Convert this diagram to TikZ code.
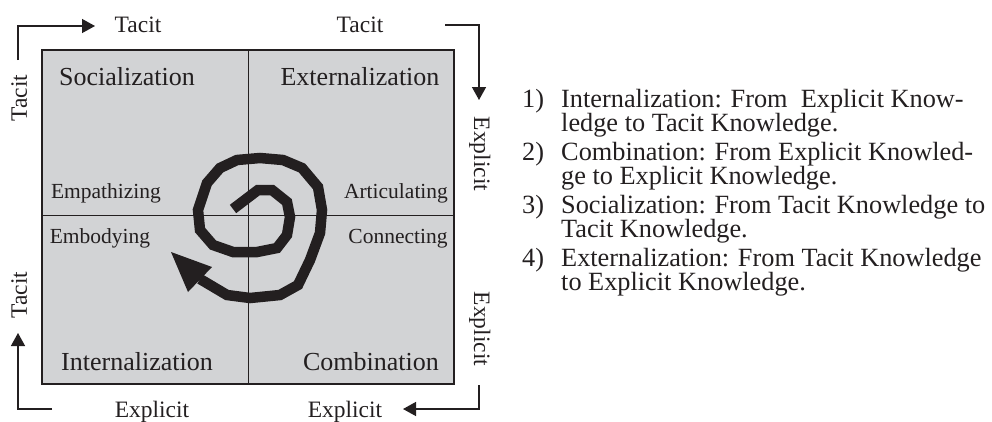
\documentclass[tikz,border=0pt]{standalone}
\usepackage{fontspec}
\setmainfont{Liberation Serif}
\usetikzlibrary{arrows.meta}
\definecolor{quadfill}{RGB}{210,211,213}
\definecolor{ink}{RGB}{35,31,32}
\begin{document}
\begin{tikzpicture}[x=1pt,y=-1pt,
  axisarrow/.style={draw=ink,line width=1.4pt,-{Triangle[length=13pt,width=14pt]}},
  axislabel/.style={font=\fontsize{23.5}{26}\selectfont, inner sep=0pt, anchor=base, text=ink},
  quadlabel/.style={font=\fontsize{26}{28}\selectfont, inner sep=0pt, anchor=base, text=ink},
  actlabel/.style={font=\fontsize{21.5}{24}\selectfont, inner sep=0pt, anchor=base, text=ink},
  listtext/.style={font=\fontsize{26.3}{23}\selectfont, inner sep=0pt, anchor=base west, text=ink},
  spiralline/.style={draw=ink,line width=10.5pt}]
\useasboundingbox (0,0) rectangle (992,421);
% matrix box
\fill[quadfill] (42,50) rectangle (454,384);
\draw[ink,line width=1pt] (248,50) -- (248,384) (42,215) -- (454,215);
\draw[ink,line width=1.3pt] (42,50) rectangle (454,384);
% quadrant labels
\node[quadlabel] (soc) at (127,85) {Socialization};
\node[quadlabel] (ext) at (360,85) {Externalization};
\node[quadlabel] (int) at (137,370) {Internalization};
\node[quadlabel] (com) at (371,370) {Combination};
\node[actlabel] (emp) at (106,198) {Empathizing};
\node[actlabel] (art) at (396,198) {Articulating};
\node[actlabel] (emb) at (100,243) {Embodying};
\node[actlabel] (con) at (398,243) {Connecting};
% axis labels
\node[axislabel] (tTL) at (138,32) {Tacit};
\node[axislabel] (tTR) at (360,32) {Tacit};
\node[axislabel] (eBL) at (152,417) {Explicit};
\node[axislabel] (eBR) at (345,417) {Explicit};
\node[axislabel,rotate=90] (tL1) at (27,98) {Tacit};
\node[axislabel,rotate=90] (tL2) at (27,295) {Tacit};
\node[axislabel,rotate=-90] (eR1) at (474,154) {Explicit};
\node[axislabel,rotate=-90] (eR2) at (474,329) {Explicit};
% axis arrows
\coordinate (a1s) at (18,60); \coordinate (a1c) at (18,26); \coordinate (a1e) at (95,26);
\coordinate (a2s) at (445,25); \coordinate (a2c) at (479,25); \coordinate (a2e) at (479,100);
\coordinate (a3s) at (52,409); \coordinate (a3c) at (18,409); \coordinate (a3e) at (18,333);
\coordinate (a4s) at (479,385); \coordinate (a4c) at (479,409); \coordinate (a4e) at (403,409);
\draw[axisarrow] (a1s) -- (a1c) -- (a1e);
\draw[axisarrow] (a2s) -- (a2c) -- (a2e);
\draw[axisarrow] (a3s) -- (a3c) -- (a3e);
\draw[axisarrow] (a4s) -- (a4c) -- (a4e);
% spiral
\draw[spiralline] (233,209) -- (258,190) -- (272,190) -- (287,202) -- (290,217) -- (287,235) -- (277,248) -- (257,252) -- (233,252) -- (213,245) -- (200,230) -- (198,210) -- (207,183) -- (220,168) -- (237,160) -- (260,158) -- (283,160) -- (302,168) -- (318,187) -- (322,210) -- (320,233) -- (310,260) -- (298,285) -- (280,295) -- (250,298) -- (227,295) -- (200,279);
\fill[ink] (171,252) -- (188,292) -- (212,267) -- cycle;
% list
\node[listtext] (n1) at (522,107) {1)};
\node[listtext] (l1a) at (561,107) {Internalization: From \ Explicit Know-};
\node[listtext] (l1b) at (561,131) {ledge to Tacit Knowledge.};
\node[listtext] (n2) at (522,160.5) {2)};
\node[listtext] (l2a) at (561,160.5) {Combination: From Explicit Knowled-};
\node[listtext] (l2b) at (561,184.5) {ge to Explicit Knowledge.};
\node[listtext] (n3) at (522,213) {3)};
\node[listtext] (l3a) at (561,213) {Socialization: From Tacit Knowledge to};
\node[listtext] (l3b) at (561,237) {Tacit Knowledge.};
\node[listtext] (n4) at (522,266) {4)};
\node[listtext] (l4a) at (561,266) {Externalization: From Tacit Knowledge};
\node[listtext] (l4b) at (561,290) {to Explicit Knowledge.};
\end{tikzpicture}
\end{document}
